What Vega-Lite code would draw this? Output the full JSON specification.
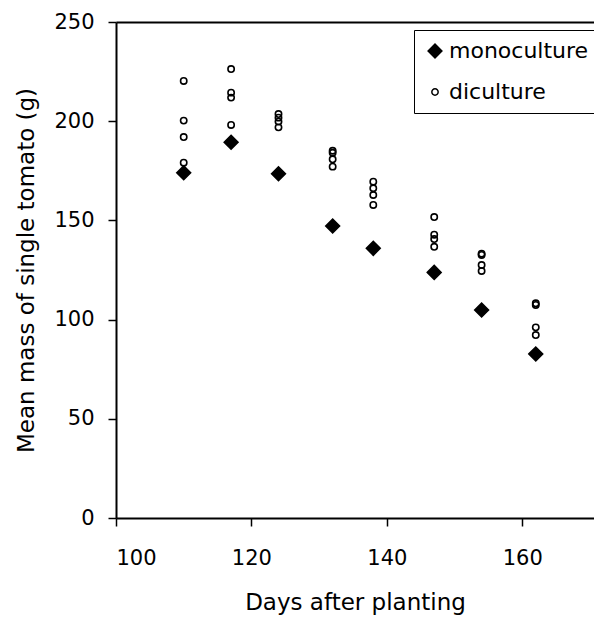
{
  "$schema": "https://vega.github.io/schema/vega-lite/v6.json",
  "width": 478,
  "height": 496,
  "autosize": "none",
  "padding": {"left": 116, "top": 22, "right": 0, "bottom": 99},
  "background": "white",
  "config": {
    "view": {"stroke": null},
    "font": "DejaVu Sans",
    "axis": {
      "domainColor": "black",
      "domainWidth": 2,
      "tickColor": "black",
      "tickWidth": 1.5,
      "tickSize": 8,
      "labelColor": "black",
      "labelFontSize": 21,
      "titleColor": "black",
      "titleFontSize": 23,
      "titleFontWeight": "normal",
      "grid": false
    }
  },
  "data": {
    "values": [
      {"series": "diculture", "day": 110, "mass": 220.3},
      {"series": "diculture", "day": 110, "mass": 200.3},
      {"series": "diculture", "day": 110, "mass": 192},
      {"series": "diculture", "day": 110, "mass": 179.1},
      {"series": "monoculture", "day": 110, "mass": 174},
      {"series": "diculture", "day": 117, "mass": 226.3},
      {"series": "diculture", "day": 117, "mass": 214.4},
      {"series": "diculture", "day": 117, "mass": 211.9},
      {"series": "diculture", "day": 117, "mass": 198.1},
      {"series": "monoculture", "day": 117, "mass": 189.4},
      {"series": "diculture", "day": 124, "mass": 203.6},
      {"series": "diculture", "day": 124, "mass": 201.8},
      {"series": "diculture", "day": 124, "mass": 199.8},
      {"series": "diculture", "day": 124, "mass": 196.9},
      {"series": "monoculture", "day": 124, "mass": 173.5},
      {"series": "diculture", "day": 132, "mass": 185.1},
      {"series": "diculture", "day": 132, "mass": 184.1},
      {"series": "diculture", "day": 132, "mass": 180.8},
      {"series": "diculture", "day": 132, "mass": 177.1},
      {"series": "monoculture", "day": 132, "mass": 147.2},
      {"series": "diculture", "day": 138, "mass": 169.5},
      {"series": "diculture", "day": 138, "mass": 166.2},
      {"series": "diculture", "day": 138, "mass": 162.8},
      {"series": "diculture", "day": 138, "mass": 157.8},
      {"series": "monoculture", "day": 138, "mass": 135.9},
      {"series": "diculture", "day": 147, "mass": 151.7},
      {"series": "diculture", "day": 147, "mass": 142.8},
      {"series": "diculture", "day": 147, "mass": 140.6},
      {"series": "diculture", "day": 147, "mass": 136.7},
      {"series": "monoculture", "day": 147, "mass": 123.8},
      {"series": "diculture", "day": 154, "mass": 133.2},
      {"series": "diculture", "day": 154, "mass": 132.6},
      {"series": "diculture", "day": 154, "mass": 127.5},
      {"series": "diculture", "day": 154, "mass": 124.5},
      {"series": "monoculture", "day": 154, "mass": 104.8},
      {"series": "diculture", "day": 162, "mass": 108.2},
      {"series": "diculture", "day": 162, "mass": 107.4},
      {"series": "diculture", "day": 162, "mass": 96.1},
      {"series": "diculture", "day": 162, "mass": 92.2},
      {"series": "monoculture", "day": 162, "mass": 82.7}
    ]
  },
  "layer": [
    {
      "mark": {"type": "point", "opacity": 0},
      "encoding": {
        "x": {
          "field": "day",
          "type": "quantitative",
          "scale": {"domain": [100, 170.6], "nice": false, "zero": false},
          "axis": {"orient": "top", "labels": false, "ticks": false, "title": null, "domainWidth": 2}
        }
      }
    },
    {
      "mark": {"type": "point", "stroke": "black", "strokeWidth": 1.6, "opacity": 1},
      "encoding": {
        "x": {
          "field": "day",
          "type": "quantitative",
          "scale": {"domain": [100, 170.6], "nice": false, "zero": false},
          "axis": {"orient": "bottom", "values": [100, 120, 140, 160], "title": "Days after planting", "labelPadding": 21, "titlePadding": 23}
        },
        "y": {
          "field": "mass",
          "type": "quantitative",
          "scale": {"domain": [0, 250], "nice": false},
          "axis": {"values": [0, 50, 100, 150, 200, 250], "title": "Mean mass of single tomato (g)", "labelPadding": 14, "titlePadding": 15}
        },
        "shape": {
          "field": "series",
          "type": "nominal",
          "scale": {"domain": ["monoculture", "diculture"], "range": ["diamond", "circle"]},
          "legend": {
            "title": null,
            "orient": "none",
            "legendX": 298,
            "legendY": 8,
            "strokeColor": "black",
            "padding": 10,
            "labelFontSize": 22,
            "labelColor": "black",
            "rowPadding": 19,
            "labelOffset": 3,
            "symbolStrokeColor": "black",
            "symbolStrokeWidth": 1.5
          }
        },
        "fill": {
          "field": "series",
          "type": "nominal",
          "scale": {"domain": ["monoculture", "diculture"], "range": ["black", "transparent"]}
        },
        "size": {
          "field": "series",
          "type": "nominal",
          "scale": {"domain": ["monoculture", "diculture"], "range": [190, 40]}
        }
      }
    }
  ],
  "resolve": {"axis": {"x": "independent"}}
}
